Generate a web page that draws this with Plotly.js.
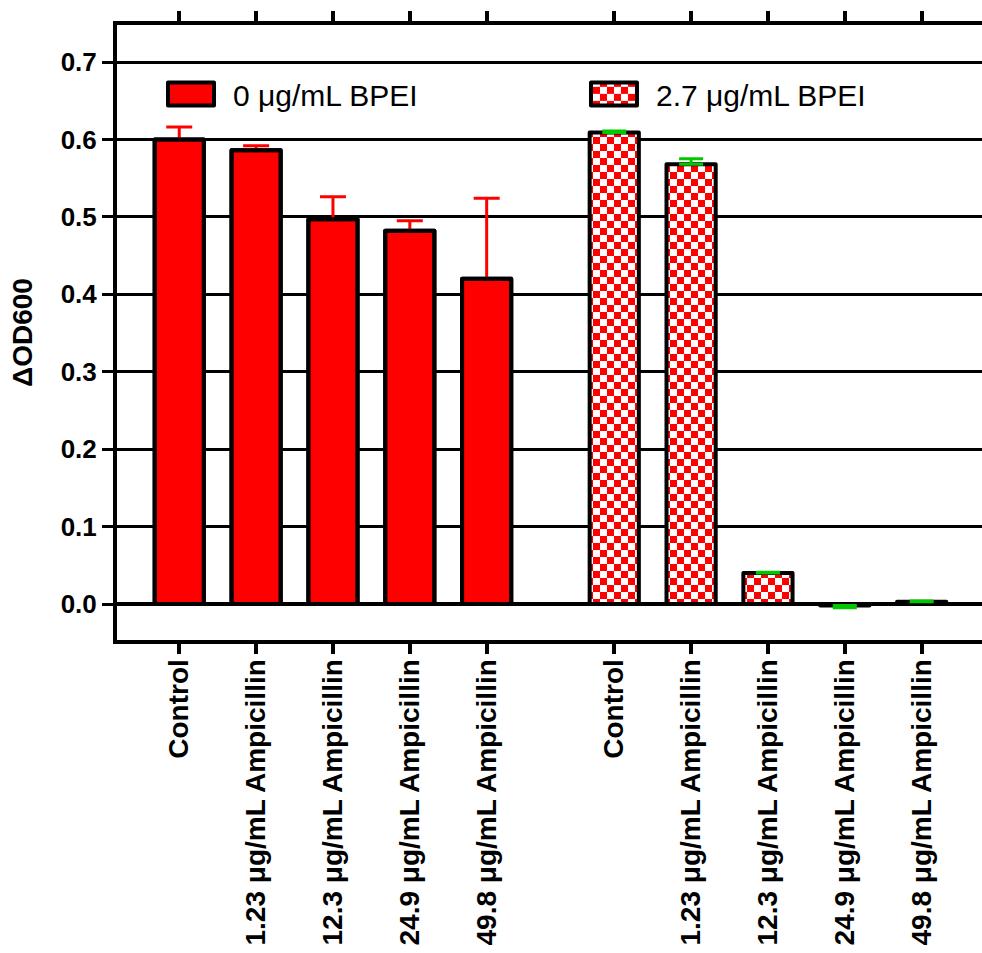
<!DOCTYPE html>
<html>
<head>
<meta charset="utf-8">
<script src="https://cdn.plot.ly/plotly-3.0.1.min.js"></script>
<style>html,body{margin:0;padding:0;background:#fff}#chart{width:982px;height:953px}</style>
</head>
<body>
<div id="chart"></div>
<script>
// ---- data ----
const tickLabels = ["Control", "1.23 μg/mL Ampicillin", "12.3 μg/mL Ampicillin", "24.9 μg/mL Ampicillin", "49.8 μg/mL Ampicillin"];
const seriesNames = ["0 μg/mL BPEI", "2.7 μg/mL BPEI"];
const bpei0Values = [0.600, 0.586, 0.497, 0.482, 0.420];
const bpei0ErrPlus = [0.016, 0.006, 0.029, 0.013, 0.104];
const bpei27Values = [0.609, 0.568, 0.040, -0.002, 0.003];
const bpei27ErrPlus = [0.002, 0.007, 0.001, 0.000, 0.001];
const bpei27ErrMinus = [0.000, 0.000, 0.000, 0.003, 0.000];
const yTickValues = [0.0, 0.1, 0.2, 0.3, 0.4, 0.5, 0.6, 0.7];

// ---- layout helpers ----
const GROUP_GAP = 0.66;
const n = tickLabels.length;
const x0 = tickLabels.map((_, i) => i);
const x1 = tickLabels.map((_, i) => n + GROUP_GAP + i);
const FONT = '"Liberation Sans", Arial, Helvetica, sans-serif';
const BAR_W = 0.64;
const OUTLINE = {color: '#000000', width: 4};
const CHECK = 14;

const traces = [
  {
    type: 'bar', x: x0, y: bpei0Values, name: seriesNames[0], width: BAR_W, legend: 'legend',
    marker: {color: '#ff0000', line: OUTLINE},
    error_y: {type: 'data', array: bpei0ErrPlus, arrayminus: bpei0ErrPlus.map(() => 0), symmetric: false,
      color: '#ff0000', thickness: 3, width: 13}
  },
  {
    // outline-only copy drawn over the red bars so the error-bar base sits under the black edge
    type: 'bar', x: x0, y: bpei0Values, name: seriesNames[0], width: BAR_W, showlegend: false,
    marker: {color: 'rgba(0,0,0,0)', line: OUTLINE}
  },
  {
    type: 'bar', x: x1, y: bpei27Values, name: seriesNames[1], width: BAR_W, legend: 'legend2',
    marker: {color: '#ffffff', line: OUTLINE,
      pattern: {shape: '.', fgcolor: '#ff0000', bgcolor: '#ffffff', size: CHECK, solidity: 0.5, fillmode: 'replace'}},
    error_y: {type: 'data', array: bpei27ErrPlus, arrayminus: bpei27ErrMinus, symmetric: false,
      color: '#00c800', thickness: 3, width: 12}
  }
];

const legendStyle = (x) => ({
  orientation: 'h', x: x, y: 0.888, xanchor: 'left', yanchor: 'middle',
  font: {size: 30, family: FONT, color: '#000'}, itemwidth: 74,
  bgcolor: 'rgba(0,0,0,0)', borderwidth: 0, itemclick: false, itemdoubleclick: false
});

const layout = {
  width: 982, height: 953,
  margin: {l: 117, r: 0, t: 25, b: 313, pad: 0},
  paper_bgcolor: '#ffffff', plot_bgcolor: '#ffffff',
  barmode: 'overlay',
  font: {family: FONT, color: '#000000'},
  showlegend: true,
  legend: legendStyle(0.037),
  legend2: legendStyle(0.526),
  xaxis: {
    range: [-0.81, 10.445], tickmode: 'array', tickvals: x0.concat(x1), ticktext: tickLabels.concat(tickLabels),
    tickangle: -90, tickfont: {size: 28, family: FONT, weight: 'bold', color: '#000'}, ticklabelstandoff: -6,
    showline: true, linecolor: '#000', linewidth: 4, mirror: 'ticks',
    ticks: 'outside', ticklen: 10, tickwidth: 4, tickcolor: '#000',
    showgrid: false, zeroline: false, fixedrange: true
  },
  yaxis: {
    range: [-0.0465, 0.7478], tickmode: 'array', tickvals: yTickValues, tickformat: '.1f',
    tickfont: {size: 26, family: FONT, weight: 'bold', color: '#000'},
    ticks: 'outside', ticklen: 11, tickwidth: 3, tickcolor: '#000',
    showline: true, linecolor: '#000', linewidth: 4,
    showgrid: true, gridcolor: '#000', gridwidth: 3,
    zeroline: true, zerolinecolor: '#000', zerolinewidth: 4,
    title: {text: 'ΔOD600', font: {size: 28, family: FONT, weight: 'bold', color: '#000'}, standoff: 21},
    fixedrange: true
  }
};

function styleTweaks(gd) {
  const NS = 'http://www.w3.org/2000/svg';
  gd.querySelectorAll('pattern').forEach(p => {
    const s = CHECK, h = s / 2;
    p.removeAttribute('viewBox');
    p.removeAttribute('patternTransform');
    p.removeAttribute('patternContentUnits');
    p.setAttribute('width', s); p.setAttribute('height', s);
    p.setAttribute('patternUnits', 'userSpaceOnUse');
    while (p.firstChild) p.removeChild(p.firstChild);
    const mk = (x, y, w, hh, c) => {
      const r = document.createElementNS(NS, 'rect');
      r.setAttribute('x', x); r.setAttribute('y', y);
      r.setAttribute('width', w); r.setAttribute('height', hh);
      r.setAttribute('fill', c);
      p.appendChild(r);
    };
    mk(0, 0, s, s, '#ffffff');
    mk(0, 0, h, h, '#ff0000');
    mk(h, h, h, h, '#ff0000');
  });
  gd.querySelectorAll('.legendpoints path').forEach(p => {
    p.setAttribute('d', 'M23,11.5H-23V-11.5H23Z');
    p.style.strokeWidth = '4px';
    p.style.strokeLinejoin = 'round';
  });
  gd.querySelectorAll('.bars path').forEach(p => { p.style.strokeLinejoin = 'round'; });
}

Plotly.newPlot('chart', traces, layout, {displayModeBar: false, staticPlot: true}).then(styleTweaks);
</script>
</body>
</html>
